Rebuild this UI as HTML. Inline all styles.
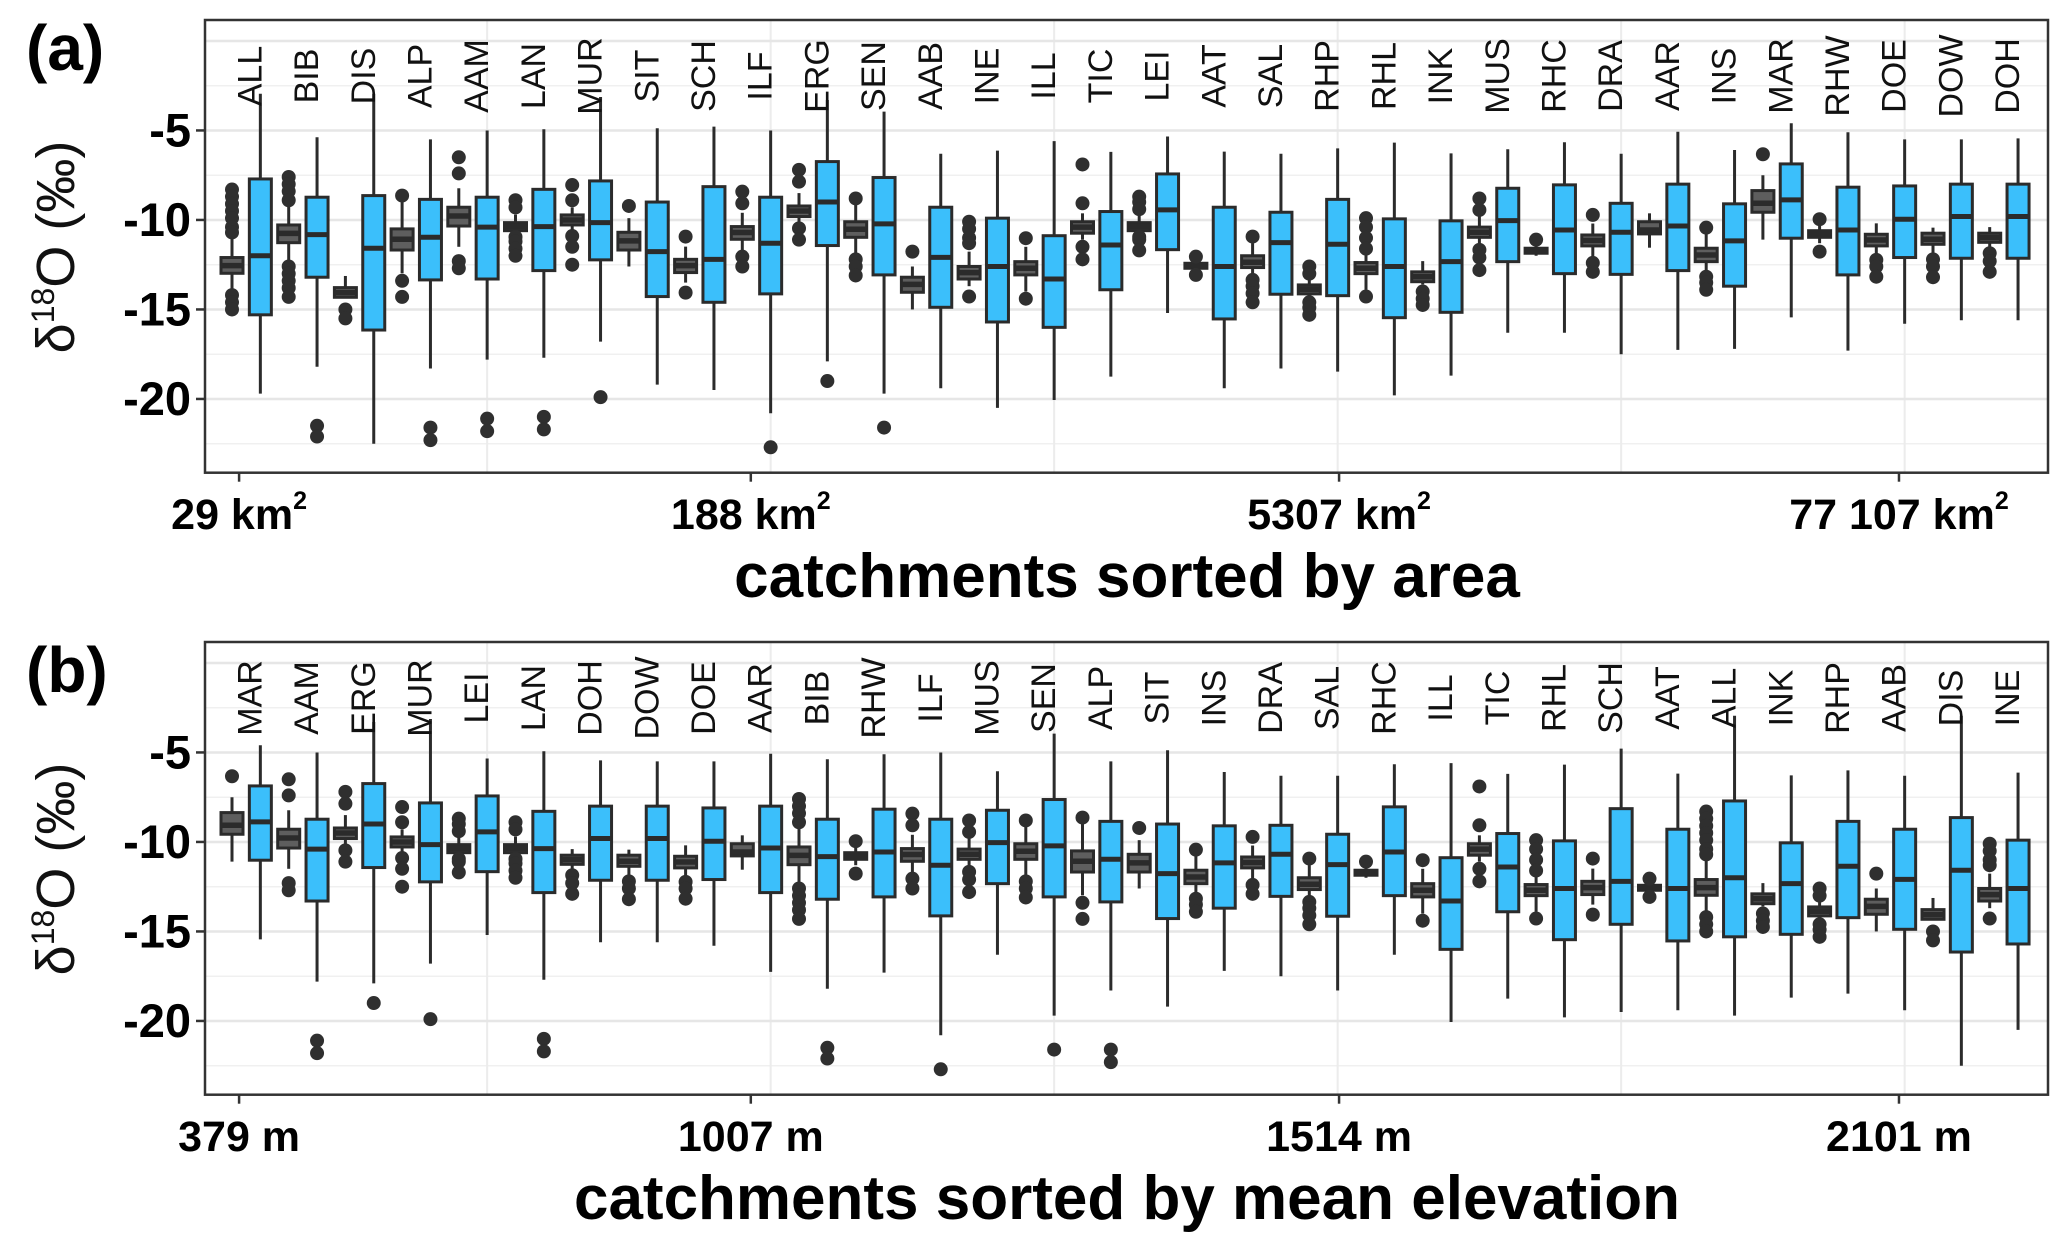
<!DOCTYPE html>
<html><head><meta charset="utf-8">
<style>
html,body{margin:0;padding:0;background:#fff;}
svg{display:block;font-family:"Liberation Sans",Arial,sans-serif;}
</style></head>
<body>
<svg id="chart" width="2067" height="1250" viewBox="0 0 2067 1250" xmlns="http://www.w3.org/2000/svg">
<rect x="0" y="0" width="2067" height="1250" fill="#fff"/>
</svg>
<script>
// ---- data (catchments in area order) ----
const catchments = ["ALL","BIB","DIS","ALP","AAM","LAN","MUR","SIT","SCH","ILF","ERG","SEN","AAB","INE","ILL","TIC","LEI","AAT","SAL","RHP","RHL","INK","MUS","RHC","DRA","AAR","INS","MAR","RHW","DOE","DOW","DOH"];
const elevationOrder = ["MAR","AAM","ERG","MUR","LEI","LAN","DOH","DOW","DOE","AAR","BIB","RHW","ILF","MUS","SEN","ALP","SIT","INS","DRA","SAL","RHC","ILL","TIC","RHL","SCH","AAT","ALL","INK","RHP","AAB","DIS","INE"];
// precipitation (grey) boxes
const pLow  = [-13.9,-12.4,-14.32,-12.98,-11.5,-10.75,-10.7,-12.6,-13.5,-11.7,-10.2,-11.9,-15.0,-13.7,-14.0,-11.1,-10.75,-12.85,-13.07,-14.4,-13.9,-13.6,-11.4,-12.0,-12.05,-11.55,-12.8,-11.1,-11.3,-11.96,-11.86,-11.6];
const pQ1   = [-12.98,-11.27,-14.32,-11.68,-10.34,-10.6,-10.28,-11.68,-12.94,-11.08,-9.81,-10.97,-14.04,-13.3,-13.07,-10.74,-10.6,-12.7,-12.66,-14.13,-13.0,-13.45,-10.97,-11.86,-11.45,-10.78,-12.33,-9.57,-10.97,-11.45,-11.36,-11.25];
const pMed  = [-12.55,-10.75,-14.06,-11.08,-9.78,-10.37,-10.0,-11.17,-12.55,-10.7,-9.5,-10.52,-13.6,-12.94,-12.7,-10.4,-10.37,-12.55,-12.36,-13.87,-12.7,-13.17,-10.69,-11.7,-11.15,-10.56,-11.96,-9.07,-10.74,-11.12,-11.08,-10.99];
const pQ3   = [-12.1,-10.28,-13.78,-10.5,-9.29,-10.15,-9.72,-10.69,-12.2,-10.37,-9.22,-10.1,-13.2,-12.6,-12.33,-10.1,-10.15,-12.42,-12.0,-13.63,-12.38,-12.9,-10.4,-11.58,-10.84,-10.1,-11.58,-8.36,-10.6,-10.8,-10.74,-10.74];
const pHigh = [-11.0,-9.1,-13.13,-8.9,-8.23,-9.7,-9.3,-9.9,-11.49,-9.6,-8.5,-9.0,-12.6,-11.77,-11.5,-9.63,-9.7,-12.3,-11.3,-13.26,-11.86,-12.3,-9.8,-11.4,-10.2,-9.63,-10.75,-7.5,-10.3,-10.19,-10.43,-10.4];
const pOut  = [[-8.3,-8.7,-9.1,-9.5,-9.9,-10.4,-10.7,-14.2,-14.6,-15.0],[-7.6,-8.0,-8.4,-8.9,-12.6,-13.0,-13.4,-13.8,-14.3],[-15.0,-15.5],[-8.64,-13.4,-14.3],[-6.5,-7.4,-12.3,-12.7],[-8.9,-9.3,-10.95,-11.2,-11.6,-12.0],[-8.05,-8.9,-10.9,-11.5,-12.5],[-9.22],[-10.93,-14.06],[-8.42,-9.07,-12.05,-12.6],[-7.2,-7.86,-10.47,-11.1],[-8.8,-12.2,-12.6,-13.1],[-11.77],[-10.1,-10.5,-11.0,-11.3,-14.28],[-11.02,-14.4],[-6.9,-9.07,-11.5,-12.2],[-8.7,-9.0,-9.4,-10.95,-11.1,-11.7],[-12.05,-13.07],[-10.93,-13.35,-13.7,-14.1,-14.6],[-12.6,-13.0,-14.6,-14.9,-15.3],[-9.9,-10.4,-11.0,-11.6,-14.28],[-14.0,-14.4,-14.75],[-8.8,-9.44,-11.67,-12.1,-12.8],[-11.1],[-9.72,-12.4,-12.9],[],[-10.43,-13.17,-13.5,-13.9],[-6.33],[-9.96,-11.77],[-12.23,-12.6,-13.17],[-12.2,-12.6,-13.2],[-11.86,-12.3,-12.9]];
// stream water (blue) boxes
const sLow  = [-19.7,-18.2,-22.5,-18.3,-17.8,-17.7,-16.8,-19.2,-19.5,-20.8,-17.9,-19.7,-19.4,-20.5,-20.06,-18.75,-15.2,-19.4,-18.3,-18.47,-19.8,-18.7,-16.3,-16.3,-17.5,-17.26,-17.2,-15.44,-17.3,-15.8,-15.6,-15.6];
const sQ1   = [-15.3,-13.2,-16.15,-13.35,-13.3,-12.83,-12.23,-14.28,-14.6,-14.13,-11.43,-13.07,-14.88,-15.7,-16.0,-13.9,-11.66,-15.53,-14.15,-14.23,-15.46,-15.16,-12.33,-13.0,-13.04,-12.83,-13.7,-11.02,-13.07,-12.1,-12.14,-12.14];
const sMed  = [-12.0,-10.82,-11.58,-10.97,-10.4,-10.37,-10.15,-11.77,-12.2,-11.3,-9.0,-10.22,-12.09,-12.6,-13.3,-11.4,-9.44,-12.6,-11.27,-11.36,-12.6,-12.33,-10.04,-10.56,-10.69,-10.34,-11.17,-8.88,-10.56,-9.96,-9.81,-9.81];
const sQ3   = [-7.71,-8.73,-8.64,-8.85,-8.73,-8.29,-7.82,-9.0,-8.14,-8.73,-6.74,-7.63,-9.29,-9.9,-10.88,-9.53,-7.43,-9.29,-9.57,-8.85,-9.94,-10.05,-8.23,-8.04,-9.07,-8.0,-9.1,-6.87,-8.17,-8.1,-8.0,-8.0];
const sHigh = [-2.95,-5.38,-2.95,-5.5,-5.0,-4.93,-3.13,-4.88,-4.79,-5.0,-3.3,-3.95,-6.3,-6.13,-5.6,-6.2,-5.34,-6.18,-6.3,-6.0,-5.68,-6.28,-6.05,-5.66,-6.3,-5.07,-6.09,-4.6,-5.1,-5.5,-5.5,-5.44];
const sOut  = [[],[-21.5,-22.1],[],[-21.6,-22.3],[-21.1,-21.8],[-21.0,-21.7],[-19.9],[],[],[-22.7],[-19.0],[-21.6],[],[],[],[],[],[],[],[],[],[],[],[],[],[],[],[],[],[],[],[]];
const yTicks = [-5,-10,-15,-20];
const yMajor = [0,-5,-10,-15,-20];
const yMinor = [-2.5,-7.5,-12.5,-17.5,-22.5];
const areaTickLabels = ["29 km","188 km","5307 km","77 107 km"];
const elevTickLabels = ["379 m","1007 m","1514 m","2101 m"];
const tickSlots = [0.25,18.3,39.05,58.8];

// ---- layout ----
const NS="http://www.w3.org/2000/svg";
const svg=document.getElementById('chart');
const L=205,R=2048,Y_TOP=1.17,Y_BOT=-24.12;
function mk(tag,attrs,parent){const e=document.createElementNS(NS,tag);for(const k in attrs)e.setAttribute(k,attrs[k]);(parent||svg).appendChild(e);return e;}
function xPos(slot){return 232+slot*28.35;}
function panel(off,order,tickLabels,sup,title,letter,pname){
  const top=20+off,bot=472.7+off;
  const yS=v=>top+(Y_TOP-v)/(Y_TOP-Y_BOT)*(bot-top);
  const g=mk('g',{});
  
  
  yMinor.forEach(v=>{const l=mk('line',{x1:L,x2:R,y1:yS(v),y2:yS(v),stroke:'#f0f0f0','stroke-width':1.5},g);});
  [9,19,29,39,49,59].forEach(s=>{const l=mk('line',{x1:xPos(s),x2:xPos(s),y1:top,y2:bot,stroke:'#ececec','stroke-width':2},g);});
  yMajor.forEach(v=>{const l=mk('line',{x1:L,x2:R,y1:yS(v),y2:yS(v),stroke:'#e6e6e6','stroke-width':2.5},g);});
  order.forEach((name,i)=>{
    const k=catchments.indexOf(name);
    const groups=[[xPos(2*i),pLow[k],pQ1[k],pMed[k],pQ3[k],pHigh[k],pOut[k],'#5e5e5e','precip'],[xPos(2*i+1),sLow[k],sQ1[k],sMed[k],sQ3[k],sHigh[k],sOut[k],'#3bbffb','stream']];
    groups.forEach(([x,lo,q1,md,q3,hi,outs,fill,kind])=>{
      const bg=mk('g',{},g);
      
      
      mk('line',{x1:x,x2:x,y1:yS(hi),y2:yS(lo),stroke:'#2b2b2b','stroke-width':3},bg);
      mk('rect',{x:x-11,y:yS(q3),width:22,height:Math.max(yS(q1)-yS(q3),2),fill:fill,stroke:'#2b2b2b','stroke-width':3},bg);
      mk('line',{x1:x-11,x2:x+11,y1:yS(md),y2:yS(md),stroke:'#2b2b2b','stroke-width':kind==='precip'?5.5:5},bg);
      outs.forEach(v=>{const c=mk('circle',{cx:x,cy:yS(v),r:7,fill:'#2f2f2f'},bg);});
    });
    const t=mk('text',{transform:`translate(${xPos(2*i+1)+1},${76+off}) rotate(-90)`,'text-anchor':'middle','font-size':34,fill:'#111'},g);
    t.textContent=name;
    
    
  });
  const b=mk('rect',{x:L,y:top,width:R-L,height:bot-top,fill:'none',stroke:'#333','stroke-width':2.5},g);
  
  yTicks.forEach(v=>{
    mk('line',{x1:L-9,x2:L,y1:yS(v),y2:yS(v),stroke:'#333','stroke-width':2.5},g);
    const t=mk('text',{x:L-14,y:yS(v)+16,'text-anchor':'end','font-size':47,'font-weight':'bold',fill:'#000'},g);
    t.textContent=String(v);
    
    
  });
  tickLabels.forEach((lab,i)=>{
    const x=xPos(tickSlots[i]);
    mk('line',{x1:x,x2:x,y1:bot,y2:bot+9,stroke:'#333','stroke-width':2.5},g);
    const t=mk('text',{x:x,y:529+off,'text-anchor':'middle','font-size':43,'font-weight':'bold',fill:'#000'},g);
    t.textContent=lab;
    if(sup){const s=mk('tspan',{'font-size':25,dy:-20},t);s.textContent='2';}
    
    
  });
  const tt=mk('text',{x:1127,y:597+off,'text-anchor':'middle','font-size':62,'font-weight':'bold',fill:'#000'},g);
  tt.textContent=title;
  
  
  const yt=mk('text',{transform:`translate(74,${247+off}) rotate(-90)`,'text-anchor':'middle','font-size':54,fill:'#111'},g);
  yt.innerHTML='δ<tspan font-size="32" dy="-20">18</tspan><tspan dy="20">O (‰)</tspan>';
  
  
  const pl=mk('text',{x:26,y:70+off,'font-size':64,'font-weight':'bold',fill:'#000'},g);
  pl.textContent=letter;
  
  
}
panel(0,catchments,areaTickLabels,true,'catchments sorted by area','(a)','panel-a-area');
panel(622,elevationOrder,elevTickLabels,false,'catchments sorted by mean elevation','(b)','panel-b-elevation');
</script>
</body></html>
